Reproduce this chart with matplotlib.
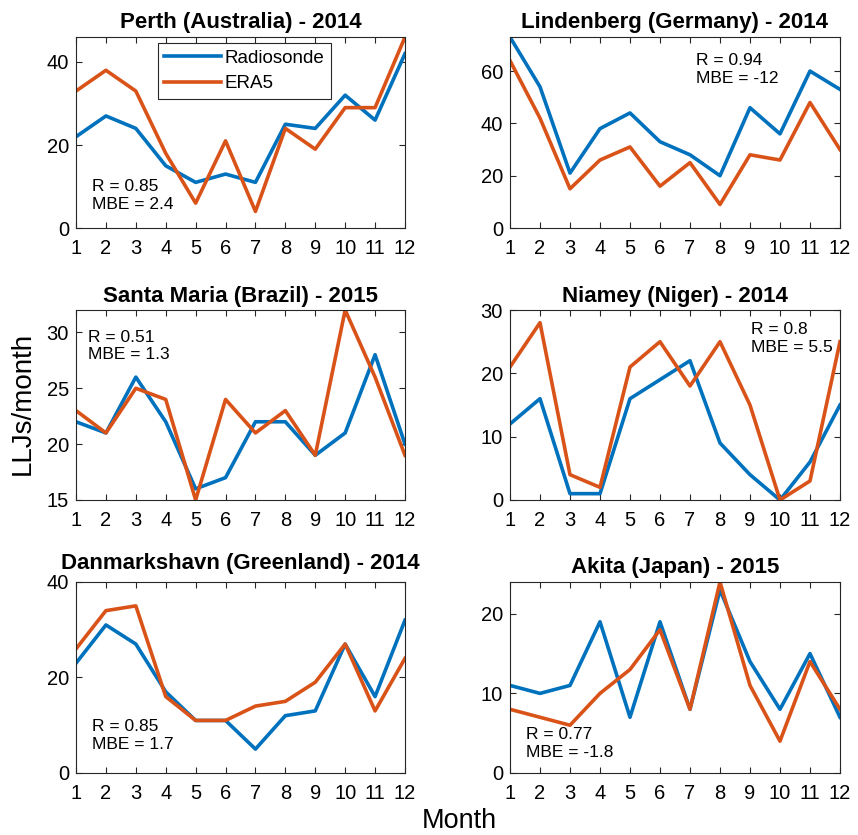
import numpy as np
import matplotlib
matplotlib.use("Agg")
import matplotlib.pyplot as plt

plt.rcParams["font.family"] = ["Liberation Sans", "DejaVu Sans"]

months = np.arange(1, 13)

# monthly LLJ counts
perth_sonde = [22, 27, 24, 15, 11, 13, 11, 25, 24, 32, 26, 42]
perth_era5 = [33, 38, 33, 18, 6, 21, 4, 24, 19, 29, 29, 46]
lind_sonde = [73, 54, 21, 38, 44, 33, 28, 20, 46, 36, 60, 53]
lind_era5 = [64, 42, 15, 26, 31, 16, 25, 9, 28, 26, 48, 30]
santa_sonde = [22, 21, 26, 22, 16, 17, 22, 22, 19, 21, 28, 20]
santa_era5 = [23, 21, 25, 24, 15, 24, 21, 23, 19, 32, 26, 19]
niamey_sonde = [12, 16, 1, 1, 16, 19, 22, 9, 4, 0, 6, 15]
niamey_era5 = [21, 28, 4, 2, 21, 25, 18, 25, 15, 0, 3, 25]
danm_sonde = [23, 31, 27, 17, 11, 11, 5, 12, 13, 27, 16, 32]
danm_era5 = [26, 34, 35, 16, 11, 11, 14, 15, 19, 27, 13, 24]
akita_sonde = [11, 10, 11, 19, 7, 19, 8, 23, 14, 8, 15, 7]
akita_era5 = [8, 7, 6, 10, 13, 18, 8, 24, 11, 4, 14, 8]

titles = ["Perth (Australia) - 2014", "Lindenberg (Germany) - 2014",
          "Santa Maria (Brazil) - 2015", "Niamey (Niger) - 2014",
          "Danmarkshavn (Greenland) - 2014", "Akita (Japan) - 2015"]
stats = ["R = 0.85\nMBE = 2.4", "R = 0.94\nMBE = -12",
         "R = 0.51\nMBE = 1.3", "R = 0.8\nMBE = 5.5",
         "R = 0.85\nMBE = 1.7", "R = 0.77\nMBE = -1.8"]
sonde = [perth_sonde, lind_sonde, santa_sonde, niamey_sonde, danm_sonde, akita_sonde]
era5 = [perth_era5, lind_era5, santa_era5, niamey_era5, danm_era5, akita_era5]
ylims = [(0, 46), (0, 73), (15, 32), (0, 30), (0, 40), (0, 24)]
yticks = [[0, 20, 40], [0, 20, 40, 60], [15, 20, 25, 30],
          [0, 10, 20, 30], [0, 20, 40], [0, 10, 20]]

# layout (figure fractions), title pads and stats text positions (axes fractions)
rects = [(0.0886, 0.7269, 0.3834, 0.2287), (0.5944, 0.7269, 0.3846, 0.2287),
         (0.0886, 0.4012, 0.3834, 0.2275), (0.5944, 0.4012, 0.3846, 0.2275),
         (0.0886, 0.0743, 0.3834, 0.2287), (0.5944, 0.0743, 0.3846, 0.2287)]
title_pads = [6.5, 6.5, 6, 6, 9, 6.5]
text_pos = [(0.049, 0.255), (0.564, 0.915), (0.037, 0.895),
            (0.73, 0.935), (0.049, 0.28), (0.048, 0.24)]

blue = "#0072BD"
orange = "#D95319"

fig = plt.figure(figsize=(8.58, 8.35), dpi=100)

for i in range(6):
    ax = fig.add_axes(rects[i])
    ax.plot(months, sonde[i], color=blue, lw=2.6, label="Radiosonde")
    ax.plot(months, era5[i], color=orange, lw=2.6, label="ERA5")
    ax.set_xlim(1, 12)
    ax.set_ylim(*ylims[i])
    ax.set_xticks(months)
    ax.set_yticks(yticks[i])
    ax.tick_params(direction="in", top=True, right=True, length=4,
                   width=0.8, color="#262626", labelsize=14.5)
    ax.tick_params(axis="x", pad=8)
    ax.tick_params(axis="y", pad=5)
    for s in ax.spines.values():
        s.set_color("#262626")
        s.set_linewidth(0.8)
    ax.set_title(titles[i], fontsize=16, fontweight="bold", pad=title_pads[i])
    ax.text(text_pos[i][0], text_pos[i][1], stats[i], transform=ax.transAxes,
            ha="left", va="top", fontsize=12.5, linespacing=1.2)
    if i == 0:
        leg = ax.legend(loc="upper left", bbox_to_anchor=(0.249, 0.969),
                        fontsize=13.5, handlelength=3.0, fancybox=False,
                        framealpha=1, borderaxespad=0, borderpad=0.35,
                        labelspacing=0.45, handletextpad=0.2)
        leg.get_frame().set_edgecolor("#262626")
        leg.get_frame().set_linewidth(0.8)

fig.text(0.027, 0.517, "LLJs/month", rotation=90, ha="center", va="center", fontsize=20)
fig.text(0.535, 0.017, "Month", ha="center", va="center", fontsize=19.5)

fig.savefig("out.png", dpi=100)
